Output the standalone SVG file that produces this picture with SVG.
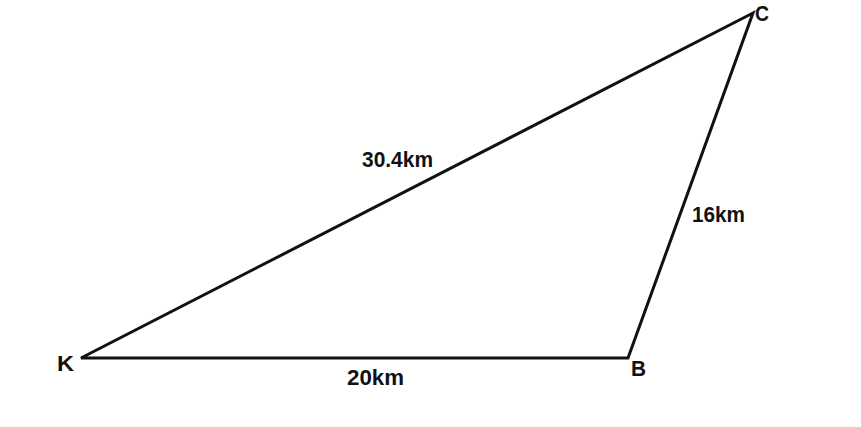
<svg xmlns="http://www.w3.org/2000/svg" width="861" height="427" viewBox="0 0 861 427">
<style>
.t{font-family:"Liberation Sans",Arial,sans-serif;font-weight:bold;font-size:22px;fill:#111}
.e{stroke:#111;stroke-width:3;fill:none;stroke-linejoin:miter}
</style>
<rect width="861" height="427" fill="#fff"/>
<g id="connectors">
<path class="e" d="M81 358 L628 358 L753 13 Z"/>
</g>
<g id="K"><text class="t" x="57" y="371" textLength="17" lengthAdjust="spacingAndGlyphs">K</text></g>
<g id="B"><text class="t" x="631" y="376" textLength="15" lengthAdjust="spacingAndGlyphs">B</text></g>
<g id="C"><text class="t" x="755" y="21" textLength="14" lengthAdjust="spacingAndGlyphs">C</text></g>
<g id="labels">
<text class="t" x="362" y="167" textLength="71" lengthAdjust="spacingAndGlyphs">30.4km</text>
<text class="t" x="692" y="222" textLength="53" lengthAdjust="spacingAndGlyphs">16km</text>
<text class="t" x="347" y="385" textLength="57" lengthAdjust="spacingAndGlyphs">20km</text>
</g>
</svg>
